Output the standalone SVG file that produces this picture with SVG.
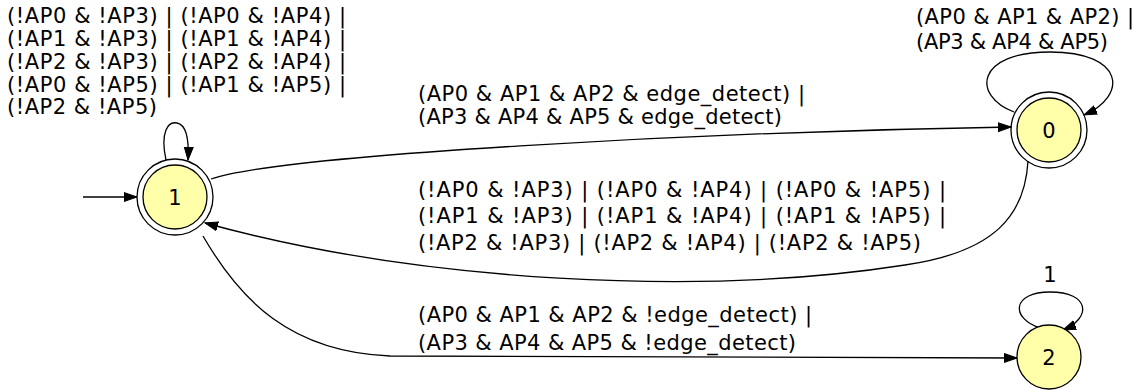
<svg xmlns="http://www.w3.org/2000/svg" width="1143" height="390" viewBox="0 0 1143 390">
  <style>
    text { font-family: "DejaVu Sans", "Liberation Sans", sans-serif; font-size: 21px; fill: #000; }
    .node-label { text-anchor: middle; }
    .state { fill: #ffffaa; stroke: #000; stroke-width: 1.3; }
    .ring { fill: none; stroke: #000; stroke-width: 1.3; }
    .edge { fill: none; stroke: #000; stroke-width: 1.3; marker-end: url(#arrow); }
  </style>
  <defs>
    <marker id="arrow" markerUnits="userSpaceOnUse" markerWidth="14" markerHeight="11" refX="13" refY="5" orient="auto">
      <path d="M0,0.5 L13,5 L0,9.5 Z" fill="#000" stroke="#000" stroke-width="1"/>
    </marker>
  </defs>

  <rect width="1143" height="390" fill="#fff"/>

  <!-- transitions -->
  <g id="edges">
    <path id="init" class="edge" d="M83,197 L137,197"/>
    <path id="loop-1" class="edge" d="M166,160 C160,132 168,121 177,123 C187,125 189,142 188,160"/>
    <path id="e-1-0" class="edge" d="M211,179 C280,155 700,132 1011,127"/>
    <path id="e-0-1" class="edge" d="M1028,161 C1025,215 995,252 905,265 C700,297 420,282 205,223"/>
    <path id="e-1-2" class="edge" d="M203,236 C240,300 290,352 390,356 L1017,358"/>
    <path id="loop-0" class="edge" d="M1014,112 C972,96 975,52 1050,52 C1125,52 1128,96 1084,115"/>
    <path id="loop-2" class="edge" d="M1040,328 C1010,318 1012,292 1050,292 C1090,292 1092,318 1063,330"/>
  </g>

  <!-- transition labels -->
  <g id="edge-labels">
    <g id="label-loop-1">
      <text x="7" y="23" textLength="339">(!AP0 &amp; !AP3) | (!AP0 &amp; !AP4) |</text>
      <text x="7" y="46" textLength="339">(!AP1 &amp; !AP3) | (!AP1 &amp; !AP4) |</text>
      <text x="7" y="69" textLength="339">(!AP2 &amp; !AP3) | (!AP2 &amp; !AP4) |</text>
      <text x="7" y="92" textLength="339">(!AP0 &amp; !AP5) | (!AP1 &amp; !AP5) |</text>
      <text x="7" y="114" textLength="150">(!AP2 &amp; !AP5)</text>
    </g>
    <g id="label-loop-0">
      <text x="916" y="24" textLength="218">(AP0 &amp; AP1 &amp; AP2) |</text>
      <text x="916" y="49" textLength="192">(AP3 &amp; AP4 &amp; AP5)</text>
    </g>
    <g id="label-1-0">
      <text x="418" y="101" textLength="387">(AP0 &amp; AP1 &amp; AP2 &amp; edge_detect) |</text>
      <text x="418" y="124" textLength="364">(AP3 &amp; AP4 &amp; AP5 &amp; edge_detect)</text>
    </g>
    <g id="label-0-1">
      <text x="418" y="197" textLength="528">(!AP0 &amp; !AP3) | (!AP0 &amp; !AP4) | (!AP0 &amp; !AP5) |</text>
      <text x="418" y="223" textLength="528">(!AP1 &amp; !AP3) | (!AP1 &amp; !AP4) | (!AP1 &amp; !AP5) |</text>
      <text x="418" y="250" textLength="503">(!AP2 &amp; !AP3) | (!AP2 &amp; !AP4) | (!AP2 &amp; !AP5)</text>
    </g>
    <g id="label-1-2">
      <text x="418" y="322" textLength="394">(AP0 &amp; AP1 &amp; AP2 &amp; !edge_detect) |</text>
      <text x="418" y="350" textLength="378">(AP3 &amp; AP4 &amp; AP5 &amp; !edge_detect)</text>
    </g>
    <g id="label-loop-2">
      <text class="node-label" x="1050" y="282">1</text>
    </g>
  </g>

  <!-- states -->
  <g id="node-1">
    <circle class="ring" cx="175" cy="197" r="38"/>
    <circle class="state" cx="175" cy="197" r="32"/>
    <text class="node-label" x="175" y="205">1</text>
  </g>
  <g id="node-0">
    <circle class="ring" cx="1049" cy="130" r="38"/>
    <circle class="state" cx="1049" cy="130" r="32"/>
    <text class="node-label" x="1049" y="138">0</text>
  </g>
  <g id="node-2">
    <circle class="state" cx="1049" cy="357" r="32"/>
    <text class="node-label" x="1049" y="365">2</text>
  </g>
</svg>
